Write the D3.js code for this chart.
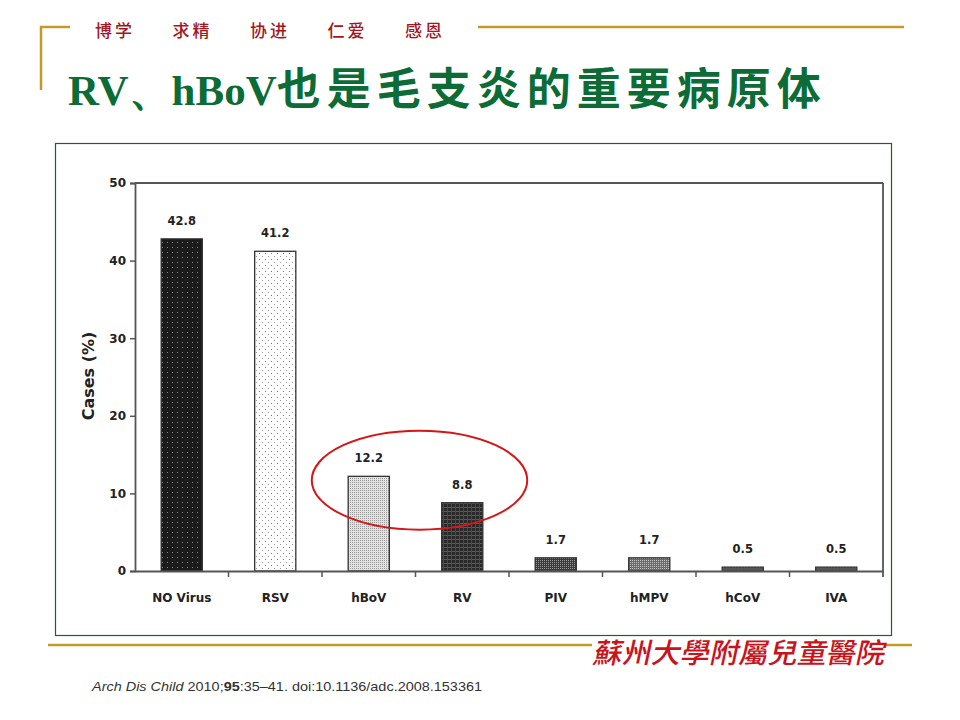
<!DOCTYPE html>
<html><head><meta charset="utf-8">
<script src="https://cdn.jsdelivr.net/npm/d3@7"></script>
<style>
html,body{margin:0;padding:0;background:#fff;}
svg{display:block;}
</style></head>
<body>
<svg id="c" width="960" height="720"></svg>
<script>
// ---- data ----
const categories = ["NO Virus","RSV","hBoV","RV","PIV","hMPV","hCoV","IVA"];
const values = [42.8, 41.2, 12.2, 8.8, 1.7, 1.7, 0.5, 0.5];
const valueLabels = ["42.8","41.2","12.2","8.8","1.7","1.7","0.5","0.5"];
const yTicks = [0,10,20,30,40,50];
const headerWords = ["博学","求精","协进","仁爱","感恩"];
const titleLatin = "RV、hBoV";
const titleCJK = "也是毛支炎的重要病原体";
const yLabel = "Cases (%)";
const hospital = "蘇州大學附屬兒童醫院";
const highlighted = ["hBoV","RV"];

// ---- styles ----
const patternIds = ["pNo","pRsv","pHbov","pRv","pPiv","pHmpv","pHcov","pHcov"];
const gold = "#c39a26";

const svg = d3.select("#c");
const defs = svg.append("defs");
function pat(id, size, bg, draw){
  const p = defs.append("pattern").attr("id",id).attr("patternUnits","userSpaceOnUse")
    .attr("width",size).attr("height",size);
  p.append("rect").attr("width",size).attr("height",size).attr("fill",bg);
  draw(p);
}
pat("pNo",5,"#1b1b1b",p=>p.append("rect").attr("x",2).attr("y",2).attr("width",1).attr("height",1).attr("fill","#8a8a8a"));
pat("pRsv",6,"#ffffff",p=>{p.append("rect").attr("x",1).attr("y",1).attr("width",1).attr("height",1).attr("fill","#777");
  p.append("rect").attr("x",4).attr("y",4).attr("width",1).attr("height",1).attr("fill","#999");});
pat("pHbov",2,"#e2e2e2",p=>p.append("rect").attr("width",1).attr("height",1).attr("fill","#9a9a9a"));
pat("pRv",4,"#2a2a2a",p=>{p.append("rect").attr("x",0).attr("y",3).attr("width",4).attr("height",1).attr("fill","#5c5c5c");
  p.append("rect").attr("x",3).attr("y",0).attr("width",1).attr("height",4).attr("fill","#4a4a4a");});
pat("pPiv",2,"#3a3a3a",p=>p.append("rect").attr("width",1).attr("height",1).attr("fill","#9a9a9a"));
pat("pHmpv",2,"#6a6a6a",p=>p.append("rect").attr("width",1).attr("height",1).attr("fill","#c4c4c4"));
pat("pHcov",3,"#555",p=>p.append("rect").attr("width",1).attr("height",1).attr("fill","#aaa"));

// ---- header ----
svg.append("line").attr("x1",40).attr("x2",70).attr("y1",27).attr("y2",27).attr("stroke",gold).attr("stroke-width",2.5);
svg.append("line").attr("x1",478).attr("x2",904).attr("y1",27).attr("y2",27).attr("stroke",gold).attr("stroke-width",2.5);
svg.append("line").attr("x1",41).attr("x2",41).attr("y1",26).attr("y2",90).attr("stroke",gold).attr("stroke-width",2.5);
headerWords.forEach((w,i)=>{
  svg.append("text").attr("x",95+i*77.5).attr("y",37).text(w)
    .attr("font-family","Noto Sans CJK SC").attr("font-size",17).attr("font-weight",500).attr("fill","#a3161d")
    .attr("letter-spacing",3);
});
const title = svg.append("text").attr("x",68).attr("y",105).attr("fill","#0d6b36").attr("font-weight","bold");
title.append("tspan").text(titleLatin).attr("font-family","Liberation Serif, DejaVu Serif").attr("font-size",43);
title.append("tspan").text(titleCJK).attr("font-family","Noto Sans CJK SC").attr("font-size",44).attr("letter-spacing",6);

// ---- frame ----
svg.append("rect").attr("x",55.5).attr("y",143.5).attr("width",836).attr("height",492)
  .attr("fill","none").attr("stroke","#1d5e3a").attr("stroke-width",1.2);

// ---- chart ----
const x = d3.scaleBand().domain(categories).range([135,883]).paddingInner(0.56).paddingOuter(0.28);
const y = d3.scaleLinear().domain([0,50]).range([571,183]);
const g = svg.append("g");
const axisColor = "#555";
const chartFont = "DejaVu Sans";

// bars
g.selectAll("rect.bar").data(categories).join("rect").attr("class","bar")
  .attr("x",d=>x(d)).attr("width",x.bandwidth())
  .attr("y",(d,i)=>y(values[i])).attr("height",(d,i)=>y(0)-y(values[i]))
  .attr("fill",(d,i)=>`url(#${patternIds[i]})`).attr("stroke","#333").attr("stroke-width",1.3);

// value labels
g.selectAll("text.val").data(categories).join("text").attr("class","val")
  .attr("x",d=>x(d)+x.bandwidth()/2).attr("y",(d,i)=>y(values[i])-14)
  .attr("text-anchor","middle").text((d,i)=>valueLabels[i])
  .attr("font-family",chartFont).attr("font-size",11.5).attr("font-weight","bold").attr("fill","#222");

// y axis
const yAxis = d3.axisLeft(y).tickValues(yTicks).tickSize(5).tickPadding(4);
const ya = g.append("g").attr("transform","translate(135,0)").call(yAxis);
ya.select(".domain").attr("stroke",axisColor).attr("stroke-width",1.8);
ya.selectAll(".tick line").attr("stroke",axisColor).attr("stroke-width",1.5);
ya.selectAll(".tick text").attr("font-family",chartFont).attr("font-size",12).attr("font-weight","bold").attr("fill","#222");

// x axis
const xa = g.append("g").attr("transform","translate(0,571)").call(d3.axisBottom(x).tickSize(0).tickPadding(22));
xa.select(".domain").attr("stroke",axisColor).attr("stroke-width",1.8);
xa.selectAll(".tick text").attr("font-family",chartFont).attr("font-size",12).attr("font-weight","bold").attr("fill","#222");
// boundary ticks between categories
const bounds = categories.slice(1).map(c=>x(c)-(x.step()-x.bandwidth())/2);
g.selectAll("line.bt").data(bounds).join("line").attr("class","bt")
  .attr("x1",d=>d).attr("x2",d=>d).attr("y1",571).attr("y2",577).attr("stroke",axisColor).attr("stroke-width",1.5);
// top & right frame
g.append("line").attr("x1",135).attr("x2",883).attr("y1",y(50)).attr("y2",y(50)).attr("stroke",axisColor).attr("stroke-width",1.8);
g.append("line").attr("x1",883).attr("x2",883).attr("y1",y(50)).attr("y2",577).attr("stroke",axisColor).attr("stroke-width",1.8);

// y label
g.append("text").attr("transform","translate(94,376) rotate(-90)").attr("text-anchor","middle")
  .text(yLabel).attr("font-family",chartFont).attr("font-size",16).attr("font-weight","bold").attr("fill","#222");

// highlight ellipse around hBoV & RV
const hx = highlighted.map(c=>x(c)+x.bandwidth()/2);
g.append("ellipse").attr("cx",(hx[0]+hx[1])/2+4).attr("cy",y(11.7))
  .attr("rx",(hx[1]-hx[0])/2+61).attr("ry",49.5)
  .attr("fill","none").attr("stroke","#d41616").attr("stroke-width",2);

// ---- footer ----
svg.append("line").attr("x1",48).attr("x2",592).attr("y1",645).attr("y2",645).attr("stroke",gold).attr("stroke-width",2.5);
svg.append("line").attr("x1",884).attr("x2",912).attr("y1",645).attr("y2",645).attr("stroke",gold).attr("stroke-width",2.5);
svg.append("text").attr("transform","translate(592,663) skewX(-12)").text(hospital)
  .attr("font-family","Noto Sans CJK TC").attr("font-size",28).attr("font-weight",500)
  .attr("fill","#c8141c").attr("textLength",292).attr("lengthAdjust","spacingAndGlyphs");
const cite = svg.append("text").attr("x",92).attr("y",691).attr("font-family","Liberation Sans Narrow, Liberation Sans")
  .attr("font-size",13).attr("fill","#333").attr("textLength",390).attr("lengthAdjust","spacingAndGlyphs");
cite.append("tspan").text("Arch Dis Child ").attr("font-style","italic");
cite.append("tspan").text("2010;");
cite.append("tspan").text("95").attr("font-weight","bold");
cite.append("tspan").text(":35–41. doi:10.1136/adc.2008.153361");
</script>
</body></html>
